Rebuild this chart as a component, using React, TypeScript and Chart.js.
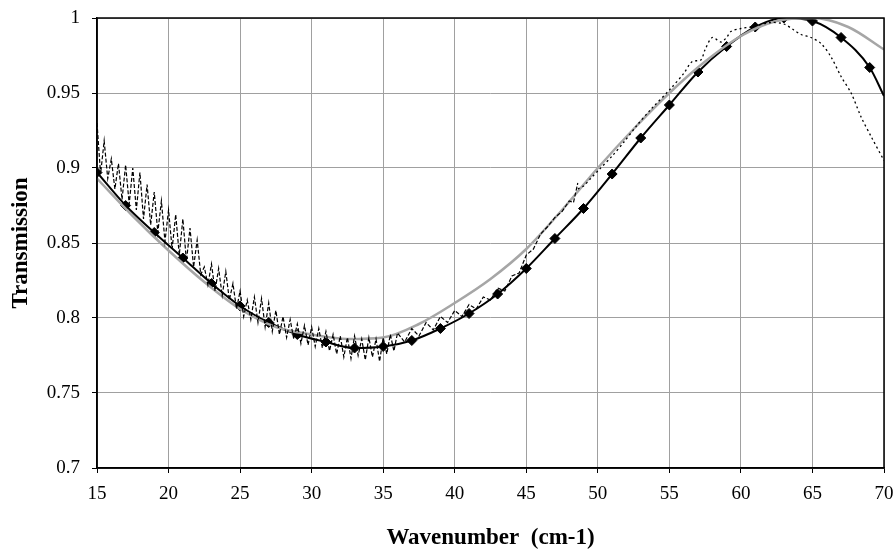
import React, { useEffect, useRef } from "react";
import { Chart, registerables } from "chart.js";

Chart.register(...registerables);

// Model curve with diamond markers (every 2 cm-1, plus end point)
const diamondX = [15, 17, 19, 21, 23, 25, 27, 29, 31, 33, 35, 37, 39, 41, 43, 45, 47, 49, 51, 53, 55, 57, 59, 61, 63, 65, 67, 69, 70];
const diamondY = [0.897, 0.875, 0.857, 0.84, 0.823, 0.808, 0.797, 0.789, 0.784, 0.78, 0.781, 0.785, 0.793, 0.803, 0.816, 0.833, 0.853, 0.873, 0.896, 0.92, 0.942, 0.964, 0.981, 0.994, 1.0, 0.998, 0.987, 0.967, 0.948];

// Gray smooth curve
const grayX = [15, 17.5, 20, 22.5, 25, 27.5, 30, 32.5, 35, 37.5, 40, 42.5, 45, 47.5, 50, 52.5, 55, 57.5, 60, 62.5, 65, 67.5, 70];
const grayY = [0.893, 0.868, 0.845, 0.824, 0.806, 0.794, 0.789, 0.786, 0.787, 0.796, 0.81, 0.826, 0.846, 0.872, 0.9, 0.926, 0.95, 0.971, 0.988, 0.998, 1.0, 0.994, 0.979];

// Measured spectrum (dashed part)
const measuredX = [
  15, 15.25, 15.5, 15.75, 16, 16.25, 16.5, 16.75, 17, 17.25, 17.5, 17.75,
  18, 18.25, 18.5, 18.75, 19, 19.25, 19.5, 19.75, 20, 20.25, 20.5, 20.75,
  21, 21.25, 21.5, 21.75, 22, 22.25, 22.5, 22.75, 23, 23.25, 23.5, 23.75,
  24, 24.25, 24.5, 24.75, 25, 25.25, 25.5, 25.75, 26, 26.25, 26.5, 26.75,
  27, 27.25, 27.5, 27.75, 28, 28.25, 28.5, 28.75, 29, 29.25, 29.5, 29.75,
  30, 30.25, 30.5, 30.75, 31, 31.25, 31.5, 31.75, 32, 32.25, 32.5, 32.75,
  33, 33.25, 33.5, 33.75, 34, 34.25, 34.5, 34.75, 35, 35.25, 35.5, 35.75,
  36, 36.5, 37, 37.5, 38, 38.5, 39, 39.5, 40, 40.5, 41, 41.5,
  42, 42.5, 43, 43.5, 44, 44.5, 45, 45.5, 46, 46.5, 47, 47.5,
  48, 48.3, 48.6,
];
const measuredY = [
  0.93, 0.896, 0.918, 0.893, 0.906, 0.886, 0.903, 0.879, 0.902, 0.876, 0.9, 0.872,
  0.897, 0.866, 0.889, 0.862, 0.884, 0.857, 0.878, 0.851, 0.872, 0.846, 0.869, 0.842,
  0.866, 0.838, 0.86, 0.834, 0.852, 0.829, 0.834, 0.822, 0.836, 0.818, 0.833, 0.815,
  0.831, 0.812, 0.823, 0.806, 0.818, 0.801, 0.812, 0.799, 0.814, 0.797, 0.813, 0.794,
  0.81, 0.791, 0.805, 0.789, 0.801, 0.787, 0.799, 0.786, 0.796, 0.783, 0.795, 0.782,
  0.794, 0.781, 0.793, 0.78, 0.791, 0.778, 0.789, 0.776, 0.788, 0.774, 0.787, 0.773,
  0.788, 0.775, 0.786, 0.772, 0.787, 0.774, 0.786, 0.771, 0.787, 0.776, 0.789, 0.778,
  0.79, 0.784, 0.793, 0.788, 0.797, 0.792, 0.801, 0.797, 0.805, 0.801, 0.809, 0.806,
  0.814, 0.812, 0.82, 0.818, 0.828, 0.83, 0.842, 0.846, 0.856, 0.861, 0.867, 0.871,
  0.878, 0.877, 0.89,
];

// Measured spectrum (dotted part)
const dottedX = [48.6, 49, 49.5, 50.1, 51, 51.8, 52.7, 53.7, 55.1, 56, 56.6, 57.2, 57.5, 58, 58.6, 59, 59.3, 60, 60.7, 62.1, 63, 63.7, 64.2, 64.9, 65.6, 66.3, 67, 67.7, 68.4, 69.1, 70];
const dottedY = [0.886, 0.888, 0.893, 0.899, 0.908, 0.917, 0.928, 0.939, 0.953, 0.963, 0.971, 0.972, 0.979, 0.987, 0.984, 0.987, 0.991, 0.993, 0.994, 0.997, 0.996, 0.992, 0.989, 0.987, 0.983, 0.974, 0.961, 0.95, 0.934, 0.921, 0.905];

const xTicks = [15, 20, 25, 30, 35, 40, 45, 50, 55, 60, 65, 70];
const yTicks = [0.7, 0.75, 0.8, 0.85, 0.9, 0.95, 1];

const zip = (xs: number[], ys: number[]) => xs.map((x, i) => ({ x, y: ys[i] }));

const framePlugin = {
  id: "frame",
  afterDatasetsDraw(chart: any) {
    const { ctx, chartArea } = chart;
    ctx.save();
    ctx.strokeStyle = "#000";
    ctx.lineWidth = 1.5;
    ctx.strokeRect(chartArea.left, chartArea.top, chartArea.right - chartArea.left, chartArea.bottom - chartArea.top);
    ctx.restore();
  },
};

export default function App() {
  const ref = useRef<HTMLCanvasElement>(null);
  useEffect(() => {
    if (!ref.current) return;
    const serif = "'Liberation Serif', 'Times New Roman', serif";
    const chart = new Chart(ref.current, {
      type: "line",
      data: {
        datasets: [
          {
            label: "measured",
            data: zip(measuredX, measuredY),
            borderColor: "#000",
            borderWidth: 1.2,
            borderDash: [4, 2],
            pointRadius: 0,
            tension: 0,
          },
          {
            label: "measured (dotted)",
            data: zip(dottedX, dottedY),
            borderColor: "#000",
            borderWidth: 1.3,
            borderDash: [2, 3],
            pointRadius: 0,
            tension: 0.3,
          },
          {
            label: "gray",
            data: zip(grayX, grayY),
            borderColor: "#a6a6a6",
            borderWidth: 2.5,
            pointRadius: 0,
            cubicInterpolationMode: "monotone",
          },
          {
            label: "model",
            data: zip(diamondX, diamondY),
            borderColor: "#000",
            backgroundColor: "#000",
            borderWidth: 2,
            pointStyle: "rectRot",
            pointRadius: diamondX.map((x) => (x === 70 ? 0 : 5)),
            pointBorderWidth: 1,
            cubicInterpolationMode: "monotone",
          },
        ] as any,
      },
      options: {
        animation: false,
        responsive: false,
        maintainAspectRatio: false,
        layout: { padding: { left: 0, right: 11, top: 18, bottom: 0 } },
        plugins: { legend: { display: false }, tooltip: { enabled: false } },
        scales: {
          x: {
            type: "linear",
            min: 15,
            max: 70,
            afterBuildTicks: (s: any) => {
              s.ticks = xTicks.map((v) => ({ value: v }));
            },
            afterFit: (s: any) => {
              s.height = 84;
              s.paddingLeft = 0;
              s.paddingRight = 0;
            },
            ticks: {
              color: "#000",
              font: { family: serif, size: 19 },
              padding: 10,
              maxRotation: 0,
            },
            grid: { color: "#a0a0a0", lineWidth: 1, tickLength: 5, tickColor: "#000" },
            border: { color: "#000", width: 1.5 },
            title: {
              display: true,
              text: "Wavenumber  (cm-1)",
              color: "#000",
              font: { family: serif, size: 23, weight: "bold" },
              padding: { top: 0, bottom: 0 },
            },
          },
          y: {
            type: "linear",
            min: 0.7,
            max: 1,
            afterBuildTicks: (s: any) => {
              s.ticks = yTicks.map((v) => ({ value: v }));
            },
            afterFit: (s: any) => {
              s.width = 97;
              s.paddingTop = 0;
              s.paddingBottom = 0;
            },
            ticks: {
              color: "#000",
              font: { family: serif, size: 19 },
              padding: 12,
              callback: (v: any) => String(+Number(v).toFixed(2)),
            },
            grid: { color: "#a0a0a0", lineWidth: 1, tickLength: 5, tickColor: "#000" },
            border: { color: "#000", width: 1.5 },
            title: {
              display: true,
              text: "Transmission",
              color: "#000",
              font: { family: serif, size: 23, weight: "bold" },
              padding: { top: 7, bottom: 0 },
            },
          },
        },
      },
      plugins: [framePlugin],
    });
    return () => chart.destroy();
  }, []);
  return (
    <div style={{ position: "fixed", left: 0, top: 0, width: 895, height: 552, background: "#fff" }}>
      <canvas ref={ref} width={895} height={552} style={{ width: 895, height: 552, display: "block" }} />
    </div>
  );
}
